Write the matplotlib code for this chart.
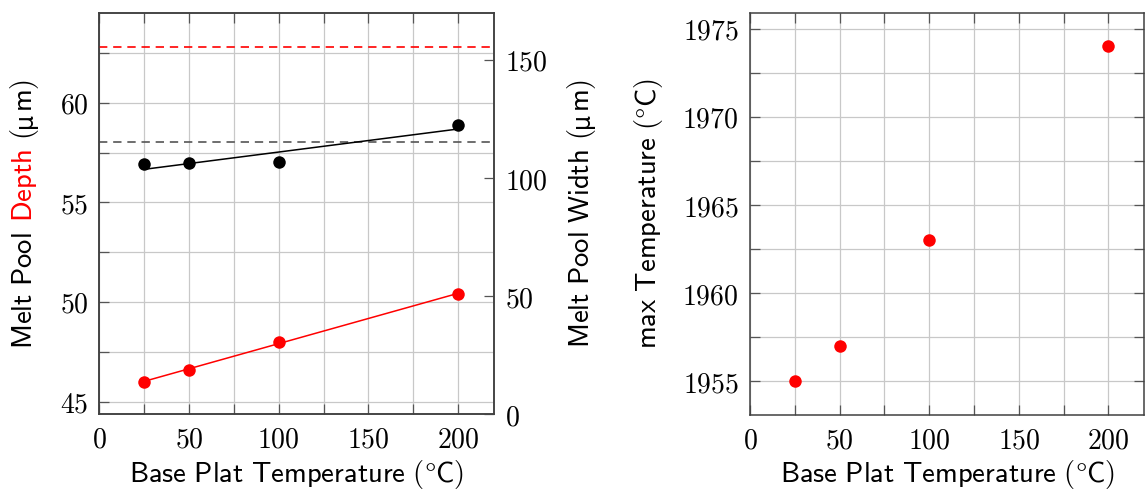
import numpy as np
import matplotlib
matplotlib.use('Agg')
import matplotlib.pyplot as plt
from matplotlib.ticker import MultipleLocator, FuncFormatter

# base plate temperature (°C) and simulated melt pool results
base_temp = [25, 50, 100, 200]
depth = [46.0, 46.6, 48.0, 50.4]          # µm, left axis
width = [105.9, 106.3, 106.8, 122.5]      # µm, right axis
max_temp = [1955, 1957, 1963, 1974]       # °C
depth_exp = 62.8                          # measured depth
width_exp = 115.4                         # measured width

W, H = 1145, 490
LABEL_SIZE = 20.6
MU_SIZE = 17
SPACE = 0.333 * LABEL_SIZE * 100 / 72     # word gap in pixels
plt.rcParams['mathtext.fontset'] = 'cm'

fig = plt.figure(figsize=(W / 100, H / 100), dpi=100)


def box(x0, x1, y0, y1):
    # pixel box (top-down) -> figure fraction rect
    return [x0 / W, 1 - y1 / H, (x1 - x0) / W, (y1 - y0) / H]


tex_fmt = FuncFormatter(lambda v, p: f'${v:g}$')


def style(a, right_ticks=True):
    a.set_xlim(0, 220)
    a.xaxis.set_major_locator(MultipleLocator(50))
    a.xaxis.set_minor_locator(MultipleLocator(25))
    a.yaxis.set_major_locator(MultipleLocator(5))
    a.yaxis.set_minor_locator(MultipleLocator(2.5))
    a.xaxis.set_major_formatter(tex_fmt)
    a.yaxis.set_major_formatter(tex_fmt)
    a.grid(True, which='both', color='#c8c8c8', lw=0.9)
    a.set_axisbelow(True)
    a.tick_params(which='both', direction='in', length=7, width=0.9,
                  color='#555555', top=True, right=right_ticks,
                  labelsize=20, pad=8)
    for s in a.spines.values():
        s.set_color('#404040')
        s.set_linewidth(1.1)


# left panel: depth (left axis) and width (right axis)
ax = fig.add_axes(box(99.3, 494, 13.3, 414.3))
style(ax, right_ticks=False)
ax.set_ylim(44.36, 64.49)

fit_x = np.array([base_temp[0], base_temp[-1]])
d_fit = np.polyfit(base_temp, depth, 1)
ax.plot(fit_x, np.polyval(d_fit, fit_x), color='red', lw=1.1, zorder=3)
ax.plot(base_temp, depth, 'o', color='red', ms=9, mew=0, zorder=4)
ax.axhline(depth_exp, color='red', lw=1.2, dashes=(5, 3.5), zorder=3)

ax2 = ax.twinx()
ax2.set_ylim(0, 169.7)
ax2.yaxis.set_major_locator(MultipleLocator(50))
ax2.yaxis.set_major_formatter(tex_fmt)
ax2.tick_params(direction='in', length=7, width=0.9, color='#555555',
                labelsize=20, pad=8)
for s in ax2.spines.values():
    s.set_color('#404040')
    s.set_linewidth(1.1)
w_fit = np.polyfit(base_temp, width, 1)
ax2.plot(fit_x, np.polyval(w_fit, fit_x), color='black', lw=1.1, zorder=3)
ax2.plot(base_temp, width, 'o', color='black', ms=9, mew=0, zorder=4)
ax2.axhline(width_exp, color='#555555', lw=1.2, dashes=(5, 3.5), zorder=2)

# right panel: peak temperature
ax3 = fig.add_axes(box(750, 1144.3, 12.7, 415))
style(ax3)
ax3.set_ylim(1953.09, 1975.91)
ax3.plot(base_temp, max_temp, 'o', color='red', ms=9, mew=0, zorder=4)

renderer = fig.canvas.get_renderer()


def text_width(s, size):
    t = fig.text(0, 0, s, fontsize=size, family='DejaVu Sans')
    w = t.get_window_extent(renderer).width
    t.remove()
    return w


def sf(s):
    return r'$\mathsf{' + s.replace(' ', r'\ ') + '}$'


def unit_parts(color='black'):
    # " (µm)" with an upright micro sign
    return [(sf('('), color, LABEL_SIZE, SPACE),
            ('μ', color, MU_SIZE, 1),
            (sf('m)'), color, LABEL_SIZE, 0.5)]


def vlabel(x_base, y_mid, parts):
    # rotated label built from pieces sharing one baseline, read bottom-up
    widths = [pad + text_width(s, size) for s, _, size, pad in parts]
    pos = y_mid + sum(widths) / 2
    for (s, c, size, pad), w in zip(parts, widths):
        fig.text(x_base / W, 1 - (pos - pad) / H, s, color=c,
                 fontsize=size, family='DejaVu Sans', rotation=90,
                 rotation_mode='anchor', ha='left', va='baseline')
        pos -= w


vlabel(32, 213.8, [(sf('Melt Pool'), 'black', LABEL_SIZE, 0),
                   (sf('Depth'), 'red', LABEL_SIZE, SPACE)] + unit_parts())
vlabel(589, 213.8, [(sf('Melt Pool Width'), 'black', LABEL_SIZE, 0)]
       + unit_parts())
vlabel(656, 213.8, [(r'$\mathsf{max\ Temperature\ (}\degree\mathsf{C)}$',
                     'black', LABEL_SIZE, 0)])

for xc in (296.7, 947.2):
    fig.text(xc / W, 1 - 482 / H,
             r'$\mathsf{Base\ Plat\ Temperature\ (}\degree\mathsf{C)}$',
             fontsize=LABEL_SIZE, ha='center', va='baseline')

fig.savefig('out.png', dpi=100)
